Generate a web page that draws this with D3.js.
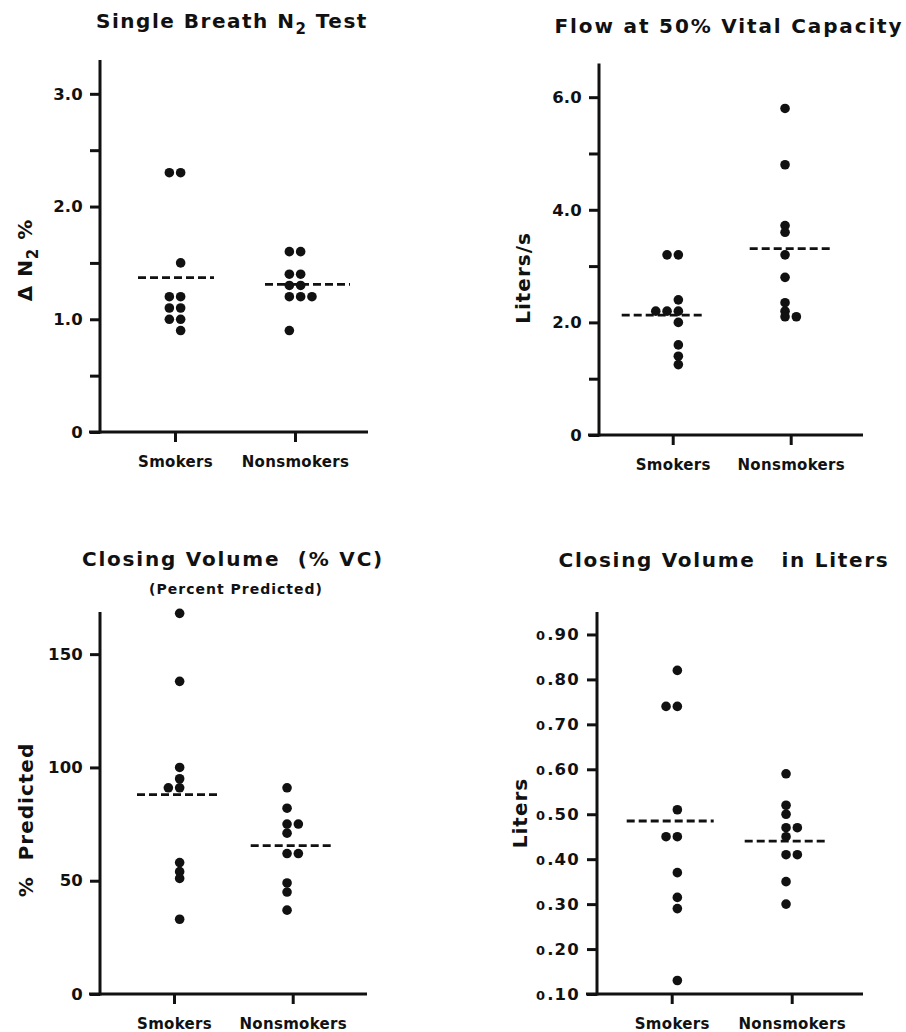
<!DOCTYPE html>
<html>
<head>
<meta charset="utf-8">
<script src="https://cdn.jsdelivr.net/npm/d3@7/dist/d3.min.js"></script>
<style>
  html, body { margin: 0; padding: 0; background: #fff; }
  svg { display: block; }
  text { font-family: "DejaVu Sans", sans-serif; font-weight: 700; fill: #111; white-space: pre; }
</style>
</head>
<body>
<svg id="chart" width="906" height="1032"></svg>
<script>
// ---------------- DATA ----------------
const categories = ["Smokers", "Nonsmokers"];

// Panel A: Single Breath N2 Test (ΔN2 %)
const n2Smokers     = [2.3, 2.3, 1.5, 1.2, 1.2, 1.1, 1.1, 1.0, 1.0, 0.9];
const n2SmokersCol  = [0, 1, 1, 0, 1, 0, 1, 0, 1, 1];
const n2Non         = [1.6, 1.6, 1.4, 1.4, 1.3, 1.3, 1.2, 1.2, 1.2, 0.9];
const n2NonCol      = [0, 1, 0, 1, 0, 1, 0, 1, 2, 0];
const n2Means       = [1.37, 1.31];
const n2Ticks       = [0, 0.5, 1, 1.5, 2, 2.5, 3];
const n2TickLabels  = ["0", "", "1.0", "", "2.0", "", "3.0"];

// Panel B: Flow at 50% Vital Capacity (Liters/s)
const flowSmokers    = [3.2, 3.2, 2.4, 2.2, 2.2, 2.2, 2.0, 1.6, 1.4, 1.25];
const flowSmokersCol = [0, 1, 1, -1, 0, 1, 1, 1, 1, 1];
const flowNon        = [5.8, 4.8, 3.72, 3.6, 3.2, 2.8, 2.35, 2.2, 2.1, 2.1];
const flowNonCol     = [0, 0, 0, 0, 0, 0, 0, 0, 0, 1];
const flowMeans      = [2.13, 3.31];
const flowTicks      = [0, 1, 2, 3, 4, 5, 6];
const flowTickLabels = ["0", "", "2.0", "", "4.0", "", "6.0"];

// Panel C: Closing Volume (% VC), percent predicted
const cvpSmokers    = [168, 138, 100, 95, 91, 91, 58, 54, 51, 33];
const cvpSmokersCol = [1, 1, 1, 1, 0, 1, 1, 1, 1, 1];
const cvpNon        = [91, 82, 75, 75, 71, 62, 62, 49, 45, 37];
const cvpNonCol     = [0, 0, 0, 1, 0, 0, 1, 0, 0, 0];
const cvpMeans      = [88, 65.5];
const cvpTicks      = [0, 50, 100, 150];
const cvpTickLabels = ["0", "50", "100", "150"];

// Panel D: Closing Volume in Liters
const cvlSmokers    = [0.82, 0.74, 0.74, 0.51, 0.45, 0.45, 0.37, 0.315, 0.29, 0.13];
const cvlSmokersCol = [1, 0, 1, 1, 0, 1, 1, 1, 1, 1];
const cvlNon        = [0.59, 0.52, 0.50, 0.47, 0.47, 0.45, 0.41, 0.41, 0.35, 0.30];
const cvlNonCol     = [0, 0, 0, 0, 1, 0, 0, 1, 0, 0];
const cvlMeans      = [0.485, 0.44];
const cvlTicks      = [0.1, 0.2, 0.3, 0.4, 0.5, 0.6, 0.7, 0.8, 0.9];
const cvlTickLabels = ["0.10", "0.20", "0.30", "0.40", "0.50", "0.60", "0.70", "0.80", "0.90"];

// ---------------- LAYOUT ----------------
const panels = [
  {
    title: [{t: "Single Breath N"}, {t: "2", sub: true}, {t: " Test"}],
    titleX: 232, titleY: 28, titleSpacing: 1.5,
    yLabel: [{t: "Δ N"}, {t: "2", sub: true}, {t: " %"}], yLabelX: 32, yLabelY: 260,
    axisX: 100, yDomain: [0, 3.3], yRange: [432, 60], xRange: [175, 295], xEnd: 368,
    ticks: n2Ticks, tickLabels: n2TickLabels,
    meanSpan: [[-37, 39], [-30, 55]],
    groups: [[n2Smokers, n2SmokersCol], [n2Non, n2NonCol]], means: n2Means
  },
  {
    title: [{t: "Flow at 50% Vital Capacity"}],
    titleX: 729, titleY: 33, titleSpacing: 1.85,
    yLabel: [{t: "Liters/s"}], yLabelX: 530, yLabelY: 278,
    axisX: 599, yDomain: [0, 6.6], yRange: [435, 63.4], xRange: [672.7, 790.7], xEnd: 863,
    ticks: flowTicks, tickLabels: flowTickLabels,
    meanSpan: [[-51, 32], [-41, 42]],
    groups: [[flowSmokers, flowSmokersCol], [flowNon, flowNonCol]], means: flowMeans
  },
  {
    title: [{t: "Closing Volume  (% VC)"}],
    titleX: 233, titleY: 566, titleSpacing: 1.8,
    subtitle: "(Percent Predicted)", subX: 236, subY: 594,
    yLabel: [{t: "%  Predicted"}], yLabelX: 33, yLabelY: 820,
    axisX: 100, yDomain: [0, 168.6], yRange: [994, 612], xRange: [174, 292.7], xEnd: 367,
    ticks: cvpTicks, tickLabels: cvpTickLabels,
    meanSpan: [[-37, 47], [-42, 40]],
    groups: [[cvpSmokers, cvpSmokersCol], [cvpNon, cvpNonCol]], means: cvpMeans
  },
  {
    title: [{t: "Closing Volume   in Liters"}],
    titleX: 724, titleY: 567, titleSpacing: 1.7,
    yLabel: [{t: "Liters"}], yLabelX: 527, yLabelY: 813,
    axisX: 597, yDomain: [0.1, 0.95], yRange: [994, 612], xRange: [671.7, 791.7], xEnd: 863,
    ticks: cvlTicks, tickLabels: cvlTickLabels, smallZero: true,
    meanSpan: [[-45, 42], [-47, 37]],
    groups: [[cvlSmokers, cvlSmokersCol], [cvlNon, cvlNonCol]], means: cvlMeans
  }
];

const svg = d3.select("#chart");
const STROKE = 3;
const DOT_R = 4.8;
const COL_STEP = 11.3;

function addRich(sel, parts, baseSize) {
  let shifted = 0;
  parts.forEach(p => {
    const ts = sel.append("tspan").text(p.t);
    if (p.sub) {
      ts.attr("font-size", baseSize * 0.75).attr("dy", baseSize * 0.28);
      shifted = baseSize * 0.28;
    } else if (shifted) {
      ts.attr("dy", -shifted);
      shifted = 0;
    }
  });
}

panels.forEach(P => {
  const g = svg.append("g");
  const y = d3.scaleLinear().domain(P.yDomain).range(P.yRange);
  const x = d3.scalePoint().domain(categories).range(P.xRange);
  const colX = d3.scaleLinear().domain([0, 1]).range([-COL_STEP / 2, COL_STEP / 2]);

  // Title
  const tt = g.append("text").attr("x", P.titleX).attr("y", P.titleY)
    .attr("text-anchor", "middle").attr("font-size", 20).attr("letter-spacing", P.titleSpacing);
  addRich(tt, P.title, 20);
  if (P.subtitle) {
    g.append("text").attr("x", P.subX).attr("y", P.subY).attr("text-anchor", "middle")
      .attr("font-size", 14).attr("letter-spacing", 1).text(P.subtitle);
  }

  // Y label
  const yl = g.append("text")
    .attr("transform", `translate(${P.yLabelX},${P.yLabelY}) rotate(-90)`)
    .attr("text-anchor", "middle").attr("font-size", 20).attr("letter-spacing", 1);
  addRich(yl, P.yLabel, 20);

  // Y axis
  const yAxis = d3.axisLeft(y).tickValues(P.ticks).tickSize(10).tickSizeOuter(0).tickPadding(7)
    .tickFormat((d, i) => P.tickLabels[i]);
  const ya = g.append("g").attr("transform", `translate(${P.axisX},0)`).call(yAxis);
  ya.select(".domain").remove();
  ya.selectAll(".tick line").attr("stroke", "#111").attr("stroke-width", STROKE);
  ya.selectAll(".tick text").attr("font-size", 16.5).attr("font-family", "DejaVu Sans")
    .attr("font-weight", 700).attr("fill", "#111").attr("letter-spacing", 0.2);
  if (P.smallZero) {
    ya.selectAll(".tick text").attr("letter-spacing", 1.2).each(function(d, i) {
      const lab = P.tickLabels[i];
      const t = d3.select(this);
      t.text(null);
      t.append("tspan").attr("font-size", 13).attr("letter-spacing", 2).text(lab.slice(0, 1));
      t.append("tspan").text(lab.slice(1));
    });
  }
  g.append("line")
    .attr("x1", P.axisX).attr("x2", P.axisX)
    .attr("y1", y(P.yDomain[0]) + STROKE / 2).attr("y2", y(P.yDomain[1]))
    .attr("stroke", "#111").attr("stroke-width", STROKE);

  // X axis
  const baseY = y(P.yDomain[0]);
  const xAxis = d3.axisBottom(x).tickSize(10).tickSizeOuter(0).tickPadding(14);
  const xa = g.append("g").attr("transform", `translate(0,${baseY})`).call(xAxis);
  xa.select(".domain").remove();
  xa.selectAll(".tick line").attr("stroke", "#111").attr("stroke-width", STROKE);
  xa.selectAll(".tick text").attr("font-size", 15).attr("font-family", "DejaVu Sans")
    .attr("font-weight", 700).attr("fill", "#111").attr("letter-spacing", 0.3);
  g.append("line")
    .attr("x1", P.axisX - 11).attr("x2", P.xEnd)
    .attr("y1", baseY).attr("y2", baseY)
    .attr("stroke", "#111").attr("stroke-width", STROKE);

  // Mean dashed lines
  g.selectAll("line.mean").data(P.means).join("line").attr("class", "mean")
    .attr("x1", (d, i) => x(categories[i]) + P.meanSpan[i][0])
    .attr("x2", (d, i) => x(categories[i]) + P.meanSpan[i][1])
    .attr("y1", d => y(d)).attr("y2", d => y(d))
    .attr("stroke", "#111").attr("stroke-width", 2.8).attr("stroke-dasharray", "8,4");

  // Dots
  P.groups.forEach(([vals, cols], gi) => {
    g.selectAll(null).data(vals).join("circle")
      .attr("cx", (d, i) => x(categories[gi]) + colX(cols[i]))
      .attr("cy", d => y(d))
      .attr("r", DOT_R)
      .attr("fill", "#111");
  });
});
</script>
</body>
</html>
